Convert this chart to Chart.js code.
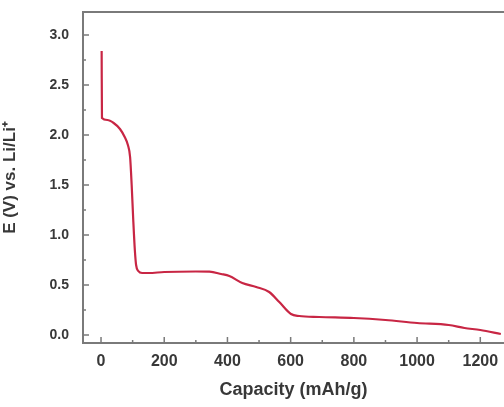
<!DOCTYPE html>
<html>
<head>
<meta charset="utf-8">
<script src="https://cdn.jsdelivr.net/npm/chart.js@4/dist/chart.umd.min.js"></script>
<style>
  body { margin: 0; background: #fff; }
</style>
</head>
<body>
<canvas id="cv" width="504" height="407"></canvas>
<script>
// discharge curve
const capacity = [2, 3, 20, 40, 60, 75, 85, 92, 97, 102, 107, 111, 118, 130, 150, 200, 300, 343, 380, 406, 447, 491, 532, 564, 601, 627, 690, 800, 900, 1000, 1100, 1150, 1200, 1265];
const voltage  = [2.84, 2.17, 2.15, 2.12, 2.06, 1.98, 1.90, 1.78, 1.50, 1.15, 0.85, 0.70, 0.64, 0.62, 0.62, 0.63, 0.635, 0.633, 0.61, 0.59, 0.52, 0.48, 0.43, 0.33, 0.21, 0.19, 0.18, 0.17, 0.15, 0.12, 0.10, 0.07, 0.05, 0.01];

const xTicks = [0, 200, 400, 600, 800, 1000, 1200];
const xMinor = [100, 300, 500, 700, 900, 1100];
const yTicks = [0.0, 0.5, 1.0, 1.5, 2.0, 2.5, 3.0];
const yMinor = [0.25, 0.75, 1.25, 1.75, 2.25, 2.75];

const axisColor = '#7a7a7a';
const textColor = '#383838';

// frame + inward tick marks
const framePlugin = {
    id: 'frame',
    afterDraw(chart) {
        const ctx = chart.ctx;
        const a = chart.chartArea;
        const xs = chart.scales.x, ys = chart.scales.y;
        ctx.save();
        ctx.strokeStyle = axisColor;
        ctx.lineWidth = 2;
        ctx.beginPath();
        ctx.moveTo(a.right + 2, a.top);
        ctx.lineTo(a.left, a.top);
        ctx.lineTo(a.left, a.bottom);
        ctx.lineTo(a.right + 2, a.bottom);
        ctx.stroke();
        ctx.lineWidth = 1.5;
        ctx.beginPath();
        xTicks.forEach(v => { const p = xs.getPixelForValue(v); ctx.moveTo(p, a.bottom); ctx.lineTo(p, a.bottom - 6); });
        xMinor.forEach(v => { const p = xs.getPixelForValue(v); ctx.moveTo(p, a.bottom); ctx.lineTo(p, a.bottom - 3); });
        yTicks.forEach(v => { const p = ys.getPixelForValue(v); ctx.moveTo(a.left, p); ctx.lineTo(a.left + 6, p); });
        yMinor.forEach(v => { const p = ys.getPixelForValue(v); ctx.moveTo(a.left, p); ctx.lineTo(a.left + 3, p); });
        ctx.stroke();
        ctx.restore();
    }
};

new Chart(document.getElementById('cv').getContext('2d'), {
    type: 'line',
    data: {
        datasets: [{
            data: capacity.map((c, i) => ({ x: c, y: voltage[i] })),
            borderColor: 'rgb(200, 38, 68)',
            borderWidth: 2.2,
            pointRadius: 0,
            fill: false,
            cubicInterpolationMode: 'monotone'
        }]
    },
    options: {
        responsive: false,
        devicePixelRatio: 1,
        animation: false,
        layout: { padding: { top: 12, right: 0, left: 0, bottom: 0 } },
        plugins: {
            legend: { display: false },
            tooltip: { enabled: false }
        },
        scales: {
            x: {
                type: 'linear',
                min: -57,
                max: 1275,
                afterBuildTicks: s => { s.ticks = xTicks.map(v => ({ value: v })); },
                afterFit: s => { s.height = 64; s.paddingLeft = 0; s.paddingRight = 0; },
                grid: { display: false, drawTicks: false },
                border: { display: false },
                ticks: {
                    padding: 9,
                    color: textColor,
                    maxRotation: 0,
                    font: { family: 'Liberation Sans', size: 16, weight: 'bold' },
                    callback: v => String(v)
                },
                title: {
                    display: true,
                    text: 'Capacity (mAh/g)',
                    color: textColor,
                    padding: { top: 0, bottom: 6 },
                    font: { family: 'Liberation Sans', size: 18, weight: 'bold' }
                }
            },
            y: {
                type: 'linear',
                min: -0.08,
                max: 3.23,
                afterBuildTicks: s => { s.ticks = yTicks.map(v => ({ value: v })); },
                afterFit: s => { s.width = 83; s.paddingTop = 0; s.paddingBottom = 0; },
                grid: { display: false, drawTicks: false },
                border: { display: false },
                ticks: {
                    padding: 14,
                    color: textColor,
                    font: { family: 'Liberation Sans', size: 14, weight: 'bold' },
                    callback: v => v.toFixed(1)
                },
                title: {
                    display: true,
                    text: 'E (V) vs. Li/Li\u207A',
                    color: textColor,
                    padding: { top: 0, bottom: 8 },
                    font: { family: 'Liberation Sans', size: 17, weight: 'bold' }
                }
            }
        }
    },
    plugins: [framePlugin]
});
</script>
</body>
</html>
